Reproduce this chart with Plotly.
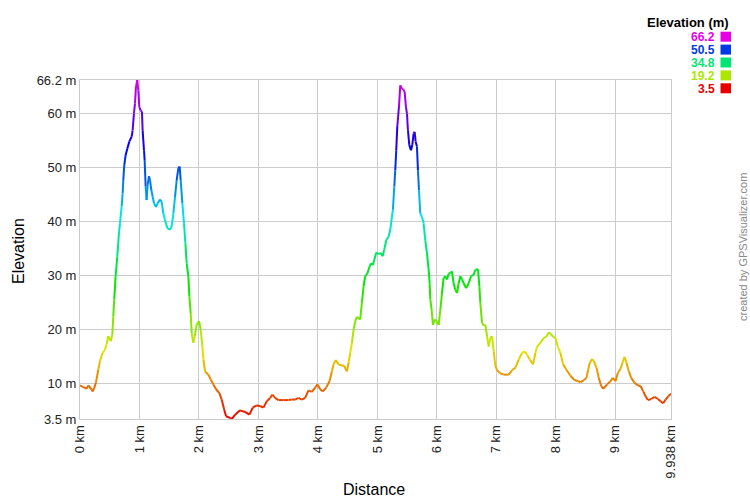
import colorsys
import plotly.graph_objects as go

# ---------------- data ----------------
distance_km = [
    0.00, 0.054, 0.11, 0.139, 0.195, 0.21, 0.234, 0.268, 0.307, 0.335, 0.38, 0.419, 0.447, 0.475, 0.515,
    0.543, 0.56, 0.576, 0.599, 0.627, 0.655, 0.672, 0.70, 0.717, 0.728, 0.745, 0.767, 0.795, 0.829, 0.868,
    0.885, 0.907, 0.924, 0.941, 0.963, 0.98, 0.997, 1.02, 1.042, 1.053, 1.076, 1.087, 1.104, 1.12, 1.137,
    1.16, 1.177, 1.199, 1.222, 1.244, 1.278, 1.306, 1.345, 1.373, 1.401, 1.429, 1.469, 1.513, 1.541, 1.57,
    1.598, 1.626, 1.654, 1.676, 1.693, 1.721, 1.749, 1.772, 1.794, 1.822, 1.839, 1.861, 1.878, 1.906, 1.929,
    1.962, 2.002, 2.03, 2.058, 2.075, 2.103, 2.159, 2.198, 2.243, 2.288, 2.344, 2.383, 2.423, 2.456,
    2.524, 2.552, 2.608, 2.692, 2.776, 2.849, 2.905, 2.961, 3.029, 3.085, 3.141, 3.197, 3.236, 3.281, 3.337,
    3.421, 3.506, 3.562, 3.618, 3.674, 3.73, 3.786, 3.842, 3.898, 3.954, 3.994, 4.039, 4.084, 4.14, 4.196,
    4.235, 4.263, 4.302, 4.347, 4.403, 4.443, 4.488, 4.516, 4.544, 4.572, 4.6, 4.628, 4.656, 4.712,
    4.74, 4.768, 4.796, 4.836, 4.869, 4.892, 4.925, 4.948, 4.982, 5.021, 5.06, 5.088, 5.116, 5.15, 5.189,
    5.217, 5.245, 5.262, 5.285, 5.301, 5.318, 5.335, 5.363, 5.386, 5.414, 5.442, 5.459, 5.481, 5.498, 5.515,
    5.537, 5.565, 5.588, 5.61, 5.627, 5.644, 5.666, 5.683, 5.7, 5.722, 5.75, 5.778, 5.806, 5.834, 5.863,
    5.879, 5.891, 5.913, 5.935, 5.964, 5.992, 6.031, 6.059, 6.087, 6.115, 6.143, 6.171, 6.2, 6.228, 6.255,
    6.283, 6.311, 6.34, 6.368, 6.396, 6.424, 6.452, 6.491, 6.536, 6.575, 6.62, 6.648, 6.693, 6.716, 6.732,
    6.76, 6.788, 6.817, 6.845, 6.873, 6.901, 6.929, 6.957, 6.985, 7.013, 7.058, 7.125,
    7.209, 7.265, 7.322, 7.378, 7.434, 7.473, 7.518, 7.563, 7.619, 7.658, 7.686, 7.742, 7.799, 7.838, 7.883,
    7.911, 7.956, 7.995, 8.034, 8.079, 8.124, 8.18, 8.247, 8.315, 8.371, 8.416, 8.472, 8.517, 8.545, 8.573,
    8.612, 8.64, 8.685, 8.724, 8.764, 8.797, 8.865, 8.921, 8.96, 9.005, 9.044, 9.089, 9.123, 9.156, 9.19,
    9.229, 9.269, 9.325, 9.381, 9.426, 9.471, 9.51, 9.549, 9.605, 9.662, 9.718, 9.763, 9.807, 9.847, 9.892,
    9.938,
]

elevation_m = [
    9.7, 9.4, 9.1, 9.7, 9.0, 8.6, 9.1, 10.2, 12.6, 14.2, 15.7, 16.3, 17.3, 18.8, 17.9,
    19.1, 22.5, 25.6, 29.9, 33.6, 37.9, 39.7, 42.8, 45.2, 47.7, 50.5, 52.3, 53.5, 54.8, 55.7,
    56.9, 60.0, 61.8, 64.9, 66.2, 64.3, 61.2, 60.6, 60.3, 56.9, 53.2, 51.4, 46.5, 44.0, 46.8,
    48.4, 47.7, 45.9, 44.6, 43.4, 42.7, 43.4, 44.1, 43.7, 41.5, 40.3, 38.8, 38.5, 39.1, 41.5,
    44.6, 47.7, 49.9, 50.2, 47.7, 43.4, 39.7, 36.0, 32.3, 29.9, 26.2, 23.1, 19.4, 17.6, 18.8,
    20.9, 21.6, 20.0, 16.9, 14.5, 12.3, 11.7, 10.8, 9.9, 9.0, 8.3, 7.1, 5.3, 4.0,
    3.7, 3.5, 4.3, 5.1, 4.8, 4.3, 5.6, 6.0, 5.9, 5.6, 6.8, 7.4, 8.0, 7.4, 7.0,
    7.0, 7.0, 7.1, 7.1, 7.4, 7.1, 7.4, 8.8, 8.5, 9.3, 9.9, 9.0, 8.6, 9.3, 10.5,
    12.3, 13.6, 14.4, 13.6, 13.4, 13.3, 12.3, 13.9, 15.7, 17.6, 20.0, 21.6, 22.4, 21.9,
    25.0, 28.0, 29.9, 30.5, 31.7, 32.3, 32.0, 32.9, 34.3, 34.0, 34.2, 33.6, 34.8, 36.6, 37.2,
    38.5, 40.9, 42.2, 46.5, 49.5, 53.2, 57.5, 61.2, 65.2, 64.6, 64.4, 64.0, 61.2, 60.0, 56.9,
    54.2, 53.2, 54.2, 56.3, 56.6, 54.8, 53.9, 49.5, 45.8, 41.5, 40.9, 39.7, 36.6, 34.2, 31.1,
    28.6, 25.6, 23.7, 20.9, 21.9, 21.6, 20.9, 23.7, 26.8, 29.6, 29.9, 29.3, 30.4, 30.5, 30.8,
    28.6, 27.4, 26.8, 28.6, 29.9, 29.3, 28.6, 27.7, 28.6, 29.9, 30.2, 31.1, 31.2, 28.0, 25.0,
    21.3, 20.8, 20.9, 18.8, 16.9, 18.5, 18.8, 16.0, 13.3, 12.6, 12.0, 11.7,
    11.7, 12.5, 13.0, 14.5, 15.7, 16.0, 15.4, 14.5, 13.6, 15.7, 16.9, 17.6, 18.5, 18.7, 19.5,
    19.3, 18.7, 18.5, 16.9, 15.7, 13.6, 12.6, 11.5, 10.7, 10.5, 10.3, 10.7, 11.1, 12.6, 13.9,
    14.6, 14.2, 13.0, 11.1, 9.6, 9.1, 9.9, 10.5, 11.1, 10.5, 12.0, 12.8, 13.9, 15.0, 13.9,
    12.3, 11.1, 10.2, 9.7, 9.6, 8.6, 7.7, 7.0, 7.2, 7.6, 7.2, 6.8, 6.4, 7.1, 7.7,
    8.2,
]

y_tick_vals = [3.5, 10, 20, 30, 40, 50, 60, 66.2]
y_tick_text = ["3.5 m", "10 m", "20 m", "30 m", "40 m", "50 m", "60 m", "66.2 m"]
x_tick_vals = [0, 1, 2, 3, 4, 5, 6, 7, 8, 9, 9.938]
x_tick_text = ["0 km", "1 km", "2 km", "3 km", "4 km", "5 km", "6 km", "7 km", "8 km", "9 km", "9.938 km"]
legend_values = [66.2, 50.5, 34.8, 19.2, 3.5]

E_MIN, E_MAX = 3.5, 66.2
X_MAX = 9.938

FONT = "Liberation Sans, Arial, sans-serif"

W, H = 750, 500
ML, MR, MT, MB = 80, 79, 80, 81
PW, PH = W - ML - MR, H - MT - MB


def color_for(e):
    h = (e - E_MIN) / (E_MAX - E_MIN) * 300.0 / 360.0
    h = min(max(h, 0.0), 300.0 / 360.0)
    r, g, b = colorsys.hsv_to_rgb(h, 1.0, 0.9)
    return "rgb(%d,%d,%d)" % (round(r * 255), round(g * 255), round(b * 255))


def px_x(px):
    return (px - ML) / PW


def px_y(py):
    return (H - MB - py) / PH


# group line segments by colour bin
groups = {}
for i in range(len(distance_km) - 1):
    mid = (elevation_m[i] + elevation_m[i + 1]) / 2.0
    key = round(mid * 2) / 2.0
    g = groups.setdefault(key, ([], []))
    g[0].extend([distance_km[i], distance_km[i + 1], None])
    g[1].extend([elevation_m[i], elevation_m[i + 1], None])

fig = go.Figure()
for key in sorted(groups):
    xs, ys = groups[key]
    fig.add_trace(go.Scatter(
        x=xs, y=ys, mode="lines",
        line=dict(color=color_for(key), width=2),
        hoverinfo="skip", showlegend=False,
    ))

annotations = [
    dict(text="Elevation", x=px_x(18), y=px_y(251), xref="paper", yref="paper",
         textangle=-90, showarrow=False, xanchor="center", yanchor="middle",
         font=dict(family=FONT, size=16, color="#000")),
    dict(text="Distance", x=px_x(374), y=px_y(489), xref="paper", yref="paper",
         showarrow=False, xanchor="center", yanchor="middle",
         font=dict(family=FONT, size=16, color="#000")),
    dict(text="created by GPSVisualizer.com", x=px_x(743), y=px_y(247), xref="paper", yref="paper",
         textangle=-90, showarrow=False, xanchor="center", yanchor="middle",
         font=dict(family=FONT, size=11, color="#888")),
    dict(text="<b>Elevation (m)</b>", x=px_x(731), y=px_y(22), xref="paper", yref="paper",
         showarrow=False, xanchor="right", yanchor="middle",
         font=dict(family=FONT, size=13, color="#000")),
]

shapes = []
for k, v in enumerate(legend_values):
    cy = 36.7 + k * 12.9
    annotations.append(dict(
        text="<b>%s</b>" % v, x=px_x(716), y=px_y(cy), xref="paper", yref="paper",
        showarrow=False, xanchor="right", yanchor="middle", height=11, borderpad=0,
        font=dict(family=FONT, size=12, color=color_for(v))))
    shapes.append(dict(
        type="rect", xref="paper", yref="paper",
        x0=px_x(720.5), x1=px_x(731), y0=px_y(cy + 5), y1=px_y(cy - 5),
        fillcolor=color_for(v), line=dict(width=0)))

fig.update_layout(
    width=W, height=H,
    margin=dict(l=ML, r=MR, t=MT, b=MB, pad=0),
    paper_bgcolor="white", plot_bgcolor="white",
    font=dict(family=FONT, size=13, color="#222"),
    xaxis=dict(
        range=[0, X_MAX], tickmode="array", tickvals=x_tick_vals, ticktext=x_tick_text,
        tickangle=-90, showgrid=True, gridcolor="#cccccc", gridwidth=1,
        showline=True, linecolor="#cccccc", linewidth=1, mirror=True,
        zeroline=False, ticks="", tickfont=dict(family=FONT, size=13, color="#222"),
        fixedrange=True,
    ),
    yaxis=dict(
        range=[E_MIN, E_MAX], tickmode="array", tickvals=y_tick_vals, ticktext=y_tick_text,
        showgrid=True, gridcolor="#cccccc", gridwidth=1,
        showline=True, linecolor="#cccccc", linewidth=1, mirror=True,
        zeroline=False, ticks="", tickfont=dict(family=FONT, size=13, color="#222"),
        fixedrange=True,
    ),
    annotations=annotations,
    shapes=shapes,
)

fig.write_html("out.html", config={"displayModeBar": False},
               post_script="document.body.style.margin='0px';")
